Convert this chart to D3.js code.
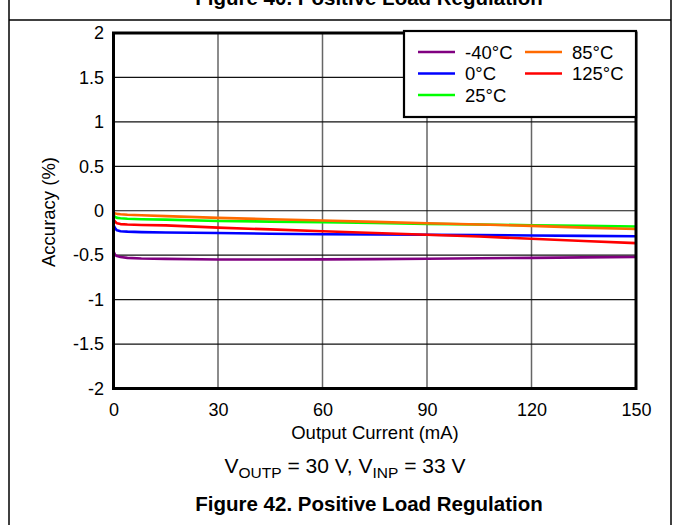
<!DOCTYPE html>
<html><head><meta charset="utf-8">
<script src="https://cdn.jsdelivr.net/npm/d3@7"></script>
<style>body{margin:0;background:#fff;}svg{display:block;font-family:"Liberation Sans",Arial,sans-serif;}</style>
</head><body>
<svg id="c" width="673" height="525"></svg>
<script>
const current = [0, 0.5, 1, 2, 4, 8, 15, 30, 45, 60, 75, 90, 105, 120, 135, 150];
const accM40 = [-0.46, -0.5, -0.51, -0.52, -0.53, -0.538, -0.542, -0.548, -0.549, -0.547, -0.544, -0.54, -0.535, -0.53, -0.525, -0.52];
const acc0   = [-0.16, -0.2, -0.22, -0.23, -0.235, -0.24, -0.245, -0.25, -0.258, -0.265, -0.268, -0.27, -0.274, -0.278, -0.283, -0.287];
const acc25  = [-0.055, -0.07, -0.08, -0.085, -0.09, -0.095, -0.1, -0.115, -0.122, -0.13, -0.138, -0.148, -0.155, -0.163, -0.17, -0.178];
const acc85  = [-0.02, -0.03, -0.035, -0.04, -0.045, -0.05, -0.06, -0.08, -0.095, -0.11, -0.125, -0.14, -0.155, -0.17, -0.19, -0.205];
const acc125 = [-0.1, -0.125, -0.14, -0.15, -0.155, -0.16, -0.165, -0.19, -0.21, -0.23, -0.25, -0.27, -0.29, -0.315, -0.34, -0.364];
const seriesNames = ["-40°C", "0°C", "25°C", "85°C", "125°C"];
const seriesColors = ["#800080", "#0000ff", "#00ff00", "#ff6a00", "#ff0000"];
const xTicks = [0, 30, 60, 90, 120, 150];
const yTicks = [-2, -1.5, -1, -0.5, 0, 0.5, 1, 1.5, 2];

const series = [accM40, acc0, acc25, acc85, acc125];
const svg = d3.select("#c");
const L = 113.5, R = 636, T = 33, B = 388.5;
const x = d3.scaleLinear().domain([0, 150]).range([L, R]);
const y = d3.scaleLinear().domain([-2, 2]).range([B, T]);
const FF = "Liberation Sans, Arial, sans-serif";

// outer frame
svg.append("line").attr("x1", 9).attr("x2", 9).attr("y1", 0).attr("y2", 525).attr("stroke", "#000").attr("stroke-width", 1.5);
svg.append("line").attr("x1", 671).attr("x2", 671).attr("y1", 0).attr("y2", 525).attr("stroke", "#000").attr("stroke-width", 1.5);
svg.append("line").attr("x1", 9).attr("x2", 671).attr("y1", 20).attr("y2", 20).attr("stroke", "#000").attr("stroke-width", 1.5);
svg.append("text").attr("x", 369).attr("y", 5).attr("text-anchor", "middle")
  .attr("font-size", 20.5).attr("font-weight", "bold").text("Figure 40. Positive Load Regulation");

// grid
svg.append("g").selectAll("line").data(xTicks.slice(1, -1)).join("line")
  .attr("x1", d => x(d)).attr("x2", d => x(d)).attr("y1", T).attr("y2", B)
  .attr("stroke", "#666").attr("stroke-width", 1.5);
svg.append("g").selectAll("line").data(yTicks.slice(1, -1)).join("line")
  .attr("x1", L).attr("x2", R).attr("y1", d => y(d)).attr("y2", d => y(d))
  .attr("stroke", "#111").attr("stroke-width", 1.2);

// axes labels via d3 axes
const xAxis = svg.append("g").attr("transform", `translate(0,${B})`)
  .call(d3.axisBottom(x).tickValues(xTicks).tickSize(0).tickPadding(15).tickFormat(d3.format("d")));
xAxis.select(".domain").remove();
xAxis.selectAll("text").attr("font-size", 18).attr("font-family", FF).attr("fill", "#000");
const yAxis = svg.append("g").attr("transform", `translate(${L},0)`)
  .call(d3.axisLeft(y).tickValues(yTicks).tickSize(0).tickPadding(9.5).tickFormat(d => String(d)));
yAxis.select(".domain").remove();
yAxis.selectAll("text").attr("font-size", 18).attr("font-family", FF).attr("fill", "#000");

// lines
const line = d3.line().x((d, i) => x(current[i])).y(d => y(d));
svg.append("g").selectAll("path").data(series).join("path")
  .attr("d", d => line(d)).attr("fill", "none")
  .attr("stroke", (d, i) => seriesColors[i]).attr("stroke-width", 2.6).attr("stroke-linejoin", "round");

// plot border
svg.append("rect").attr("x", L).attr("y", T).attr("width", R - L).attr("height", B - T)
  .attr("fill", "none").attr("stroke", "#000").attr("stroke-width", 3);

// legend
const lg = svg.append("g");
lg.append("rect").attr("x", 404).attr("y", 31).attr("width", 232).attr("height", 86)
  .attr("fill", "#fff").attr("stroke", "#000").attr("stroke-width", 2.2);
const legPos = [[418, 52], [418, 73.5], [418, 95], [525, 52], [525, 73.5]];
seriesNames.forEach((n, i) => {
  const [lx, ly] = legPos[i];
  lg.append("line").attr("x1", lx).attr("x2", lx + 37).attr("y1", ly).attr("y2", ly)
    .attr("stroke", seriesColors[i]).attr("stroke-width", 2.6);
  lg.append("text").attr("x", lx + 47).attr("y", ly + 6.5).attr("font-size", 18.5).text(n);
});

// axis titles
svg.append("text").attr("x", 375).attr("y", 439).attr("text-anchor", "middle").attr("font-size", 18.5).text("Output Current (mA)");
svg.append("text").attr("transform", "translate(54.5,212) rotate(-90)").attr("text-anchor", "middle").attr("font-size", 18.5).text("Accuracy (%)");
const sub = svg.append("text").attr("x", 345).attr("y", 473).attr("text-anchor", "middle").attr("font-size", 21);
sub.append("tspan").text("V");
sub.append("tspan").attr("font-size", 15.5).attr("dy", 5).text("OUTP");
sub.append("tspan").attr("dy", -5).text(" = 30 V, V");
sub.append("tspan").attr("font-size", 15.5).attr("dy", 5).text("INP");
sub.append("tspan").attr("dy", -5).text(" = 33 V");
svg.append("text").attr("x", 369).attr("y", 511).attr("text-anchor", "middle")
  .attr("font-size", 20.5).attr("font-weight", "bold").text("Figure 42. Positive Load Regulation");
</script>
</body></html>
